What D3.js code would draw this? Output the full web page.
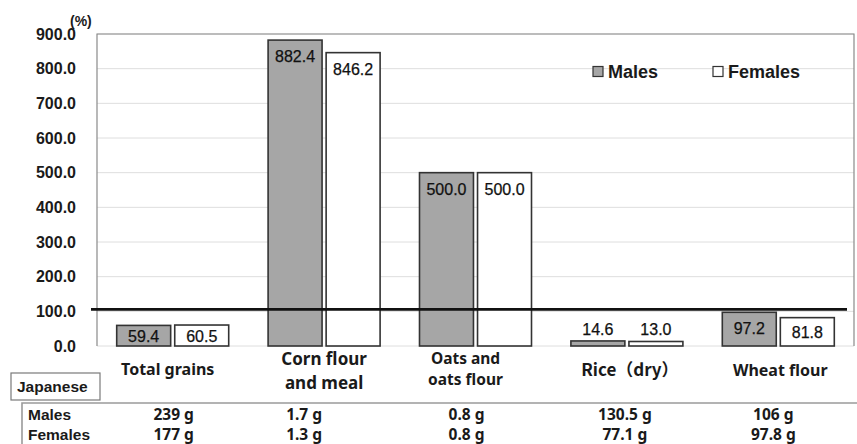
<!DOCTYPE html>
<html>
<head>
<meta charset="utf-8">
<script src="https://cdn.jsdelivr.net/npm/d3@7"></script>
<style>
  html, body { margin: 0; padding: 0; background: #fff; }
  svg { display: block; }
</style>
</head>
<body>
<svg id="chart" width="857" height="444"></svg>
<script>
// Intake relative to reference (%), by grain category
const categories = ["Total grains", "Corn flour and meal", "Oats and oats flour", "Rice (dry)", "Wheat flour"];
const categoryLines = [["Total grains"], ["Corn flour", "and meal"], ["Oats and", "oats flour"], ["Rice（dry）"], ["Wheat flour"]];
const seriesNames = ["Males", "Females"];
const malesPct = [59.4, 882.4, 500.0, 14.6, 97.2];
const femalesPct = [60.5, 846.2, 500.0, 13.0, 81.8];
const yTicks = [0, 100, 200, 300, 400, 500, 600, 700, 800, 900];
const referencePct = 100;
// Japanese daily intake (g)
const tableTitle = "Japanese";
const malesIntake = ["239 g", "1.7 g", "0.8 g", "130.5 g", "106 g"];
const femalesIntake = ["177 g", "1.3 g", "0.8 g", "77.1 g", "97.8 g"];

const svg = d3.select("#chart");
const plot = { left: 97, right: 854, top: 34, bottom: 346 };

const x = d3.scaleBand().domain(categories).range([plot.left, plot.right]).padding(0);
const y = d3.scaleLinear().domain([0, 900]).range([plot.bottom, plot.top]);
const xSub = d3.scaleBand().domain(seriesNames).range([0, 112]).paddingInner(0.07);
const fills = { Males: "#a6a6a6", Females: "#ffffff" };

const numFont = "'Liberation Sans', Arial, sans-serif";
const labelFont = "'Noto Sans', 'Noto Sans CJK JP', sans-serif";
const cjkFont = "'Noto Sans CJK JP', 'Noto Sans', sans-serif";

// gridlines
svg.append("g")
  .selectAll("line").data(yTicks).join("line")
  .attr("x1", plot.left).attr("x2", plot.right)
  .attr("y1", d => y(d)).attr("y2", d => y(d))
  .attr("stroke", "#dedede").attr("stroke-width", 1);

// plot frame
svg.append("path")
  .attr("d", `M${plot.left},${plot.bottom}V${plot.top}H${plot.right}V${plot.bottom}`)
  .attr("fill", "none").attr("stroke", "#8a8a8a").attr("stroke-width", 1.2);

// y axis labels
const yAxis = d3.axisLeft(y).tickValues(yTicks).tickFormat(d3.format(".1f")).tickSize(0).tickPadding(21);
const gy = svg.append("g").attr("transform", `translate(${plot.left},0)`).call(yAxis);
gy.select(".domain").remove();
gy.selectAll("text")
  .attr("font-family", numFont).attr("font-size", 16).attr("font-weight", "bold").attr("fill", "#1a1a1a");

svg.append("text").attr("x", 70).attr("y", 26)
  .attr("font-family", numFont).attr("font-size", 14).attr("font-weight", "bold").attr("fill", "#1a1a1a")
  .text("(%)");

// bars
const rows = categories.map((c, i) => ({ cat: c, vals: [
  { s: "Males", v: malesPct[i] }, { s: "Females", v: femalesPct[i] }] }));

const groups = svg.append("g").selectAll("g").data(rows).join("g")
  .attr("transform", d => `translate(${x(d.cat) + (x.bandwidth() - 112) / 2},0)`);

groups.selectAll("rect").data(d => d.vals).join("rect")
  .attr("x", d => xSub(d.s)).attr("width", xSub.bandwidth())
  .attr("y", d => y(d.v)).attr("height", d => y(0) - y(d.v))
  .attr("fill", d => fills[d.s]).attr("stroke", "#333").attr("stroke-width", 1.6);

groups.selectAll("text").data(d => d.vals).join("text")
  .attr("x", d => xSub(d.s) + xSub.bandwidth() / 2)
  .attr("y", d => {
    const top = y(d.v), h = y(0) - top;
    const c = h >= 30 ? top + 16 : (h >= 18 ? top + h / 2 : top - 12);
    return c + 6;
  })
  .attr("text-anchor", "middle")
  .attr("font-family", numFont).attr("font-size", 16).attr("fill", "#111")
  .attr("stroke", "#111").attr("stroke-width", 0.25)
  .text(d => d3.format(".1f")(d.v));

// 100% reference line
svg.append("line")
  .attr("x1", 91).attr("x2", 847)
  .attr("y1", y(referencePct) - 2).attr("y2", y(referencePct) - 2)
  .attr("stroke", "#111").attr("stroke-width", 2.6);

// legend
const legendX = { Males: 593, Females: 713 };
seriesNames.forEach(s => {
  svg.append("rect").attr("x", legendX[s]).attr("y", 66.5).attr("width", 10).attr("height", 10)
    .attr("fill", fills[s]).attr("stroke", "#333").attr("stroke-width", 1.2);
  svg.append("text").attr("x", legendX[s] + 15).attr("y", 78)
    .attr("font-family", numFont).attr("font-size", 18).attr("font-weight", "bold").attr("fill", "#1a1a1a")
    .text(s);
});

// category labels
const catStyle = [
  { dx: -5, size: 16, base: [375] },
  { dx: 0, size: 17, base: [365, 389] },
  { dx: -10, size: 15.5, base: [364, 385] },
  { dx: 3, size: 17, base: [376] },
  { dx: 2, size: 16, base: [376] }
];
categories.forEach((c, i) => {
  const st = catStyle[i];
  categoryLines[i].forEach((line, j) => {
    svg.append("text")
      .attr("x", x(c) + x.bandwidth() / 2 + st.dx).attr("y", st.base[j])
      .attr("text-anchor", "middle")
      .attr("font-family", /（/.test(line) ? cjkFont : labelFont)
      .attr("font-size", st.size).attr("font-weight", "bold").attr("fill", "#1a1a1a")
      .text(line);
  });
});

// intake table
svg.append("rect").attr("x", 11).attr("y", 373).attr("width", 89).attr("height", 27)
  .attr("fill", "#fff").attr("stroke", "#7a7a7a").attr("stroke-width", 1.2);
svg.append("text").attr("x", 17).attr("y", 392)
  .attr("font-family", numFont).attr("font-size", 15.5).attr("font-weight", "bold").attr("fill", "#1a1a1a")
  .text(tableTitle);
svg.append("path").attr("d", "M22,444V403H857")
  .attr("fill", "none").attr("stroke", "#9a9a9a").attr("stroke-width", 1.6);

const rowLabels = [{ name: "Males", vals: malesIntake, base: 420 }, { name: "Females", vals: femalesIntake, base: 440 }];
const colShift = [1, -20, -9, -2, -5];
rowLabels.forEach(r => {
  svg.append("text").attr("x", 28).attr("y", r.base)
    .attr("font-family", numFont).attr("font-size", 15.5).attr("font-weight", "bold").attr("fill", "#1a1a1a")
    .text(r.name);
  r.vals.forEach((v, i) => {
    svg.append("text")
      .attr("x", x(categories[i]) + x.bandwidth() / 2 + colShift[i]).attr("y", r.base)
      .attr("text-anchor", "middle")
      .attr("font-family", labelFont).attr("font-size", 15.5).attr("font-weight", "bold").attr("fill", "#1a1a1a")
      .text(v);
  });
});
</script>
</body>
</html>
